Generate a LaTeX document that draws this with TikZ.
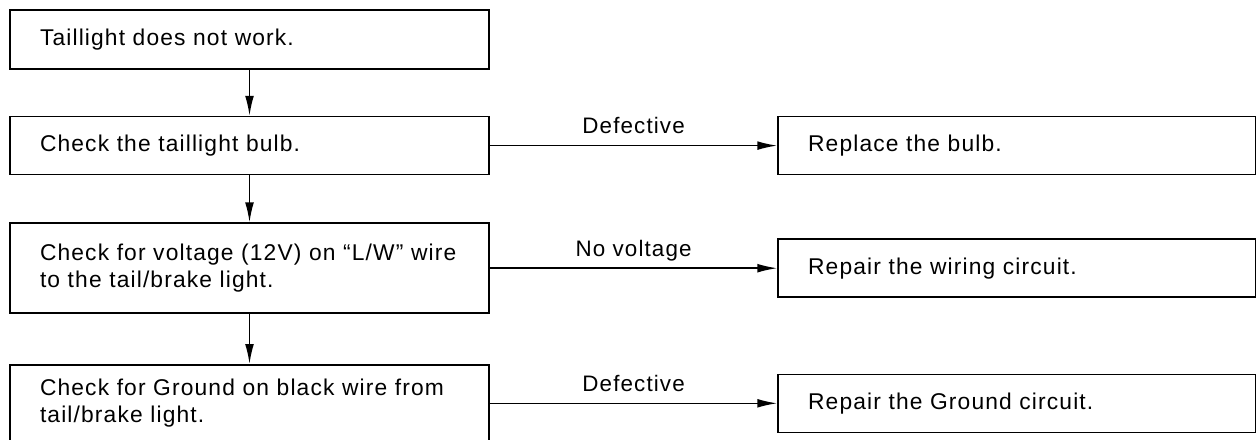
\documentclass[tikz,border=0pt]{standalone}
\usepackage{fontspec}
\setmainfont{Liberation Sans}[LetterSpace=5]
\usetikzlibrary{arrows.meta,positioning}
\tikzset{
  flow/.style={>={Latex[length=10pt,width=4.4pt]},line width=0.8pt},
  stepbox/.style={draw,align=left,font=\fontsize{11.4}{13.5}\selectfont,
    inner xsep=15pt,inner ysep=0pt,text width=209.5pt,minimum height=29pt},
  verdict/.style={font=\fontsize{11.2}{13.5}\selectfont,inner sep=0pt,
    anchor=base,yshift=6pt},
}
\begin{document}
\begin{tikzpicture}[flow,x=0.5pt,y=-0.5pt]
\useasboundingbox (0,0) rectangle (1256,439);
\node[stepbox,minimum height=29.5pt] (fault) at (249.5,39.5) {Taillight does not work.};
\node[stepbox,below=23pt of fault] (bulb) {Check the taillight bulb.};
\node[stepbox,below=23.5pt of bulb,minimum height=45pt] (volt)
  {Check for voltage (12V) on ``L/W'' wire\\to the tail/brake light.};
\node[stepbox,below=25pt of volt,minimum height=38.5pt] (gnd)
  {Check for Ground on black wire from\\tail/brake light.};
% remedies
\node[stepbox,right=143.75pt of bulb,text width=209pt] (newbulb) {Replace the bulb.};
\node[stepbox,right=143.75pt of volt,text width=209pt] (wiring) {Repair the wiring circuit.};
\node[stepbox,right=143.75pt of gnd,text width=209pt] (gndfix) {Repair the Ground circuit.};
\draw[->] (fault)--(bulb);
\draw[->] (bulb)--(volt);
\draw[->] (volt)--(gnd);
\draw[->] (bulb)-- node[verdict,midway] {Defective} (newbulb);
\draw[->] (volt)-- node[verdict,midway] {No voltage} (wiring);
\draw[->] (gnd)-- node[verdict,midway] {Defective} (gndfix);
\end{tikzpicture}
\end{document}
